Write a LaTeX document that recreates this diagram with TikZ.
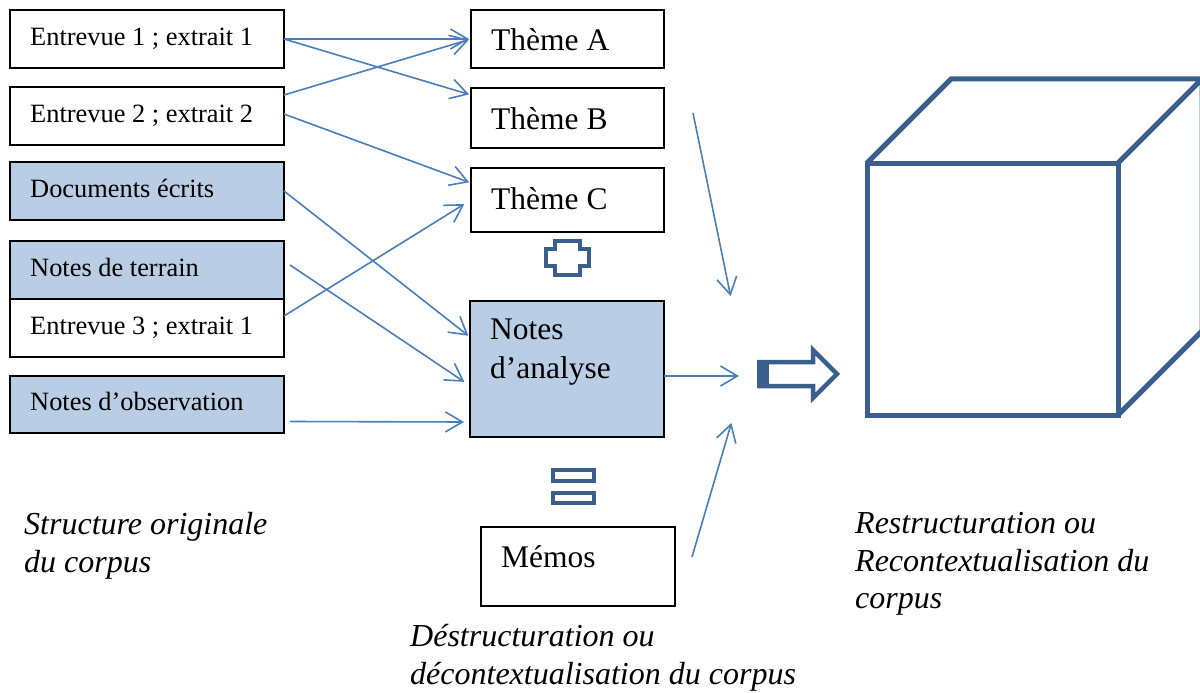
\documentclass[tikz,border=0pt]{standalone}
\usepackage{fontspec}
\setmainfont{Liberation Serif}
\usetikzlibrary{arrows.meta,calc}
\definecolor{fillblue}{HTML}{B9CDE5}
\definecolor{arrblue}{HTML}{4A7EBB}
\definecolor{darkblue}{HTML}{3A5F8C}
\newcommand\boxfont{\fontsize{26.4}{30}\selectfont}
\newcommand\themefont{\fontsize{31.5}{36}\selectfont}
\newcommand\capfont{\fontsize{32}{38}\selectfont\itshape}
\begin{document}
\begin{tikzpicture}[x=1pt,y=-1pt,
  boxw/.style={draw=black,line width=1.5pt,fill=white,anchor=north west,inner sep=0pt,outer sep=0pt},
  boxb/.style={boxw,fill=fillblue},
  lbl/.style={anchor=base west,inner sep=0pt},
  thin/.style={draw=arrblue,line width=1.6pt,-{Straight Barb[length=17pt,width=20pt,line width=1.6pt]},shorten >=2pt},
  sym/.style={draw=darkblue,line width=4.5pt,line join=miter},
]
\useasboundingbox (0,0) rectangle (1200,693);
\begin{scope}
\clip (0,0) rectangle (1200,693);
% left boxes
\node[boxw,minimum width=274pt,minimum height=58pt] (e1) at (10,10) {};
\node[boxw,minimum width=274pt,minimum height=58pt] (e2) at (10,87) {};
\node[boxb,minimum width=274pt,minimum height=58pt] (d) at (10,162) {};
\node[boxb,minimum width=274pt,minimum height=58pt] (nt) at (10,241) {};
\node[boxw,minimum width=274pt,minimum height=58pt] (e3) at (10,299) {};
\node[boxb,minimum width=274pt,minimum height=57pt] (no) at (10,376) {};
% middle boxes
\node[boxw,minimum width=193pt,minimum height=58pt] (tA) at (471,10) {};
\node[boxw,minimum width=193pt,minimum height=60pt] (tB) at (471,88) {};
\node[boxw,minimum width=193pt,minimum height=64pt] (tC) at (471,168) {};
\node[boxb,minimum width=194pt,minimum height=136pt] (na) at (470,301) {};
\node[boxw,minimum width=194pt,minimum height=79pt] (me) at (481,527) {};
% texts
\node[lbl] (te1) at (30,46) {\boxfont Entrevue 1 ; extrait 1};
\node[lbl] (te2) at (30,122) {\boxfont Entrevue 2 ; extrait 2};
\node[lbl] (td) at (30,197) {\boxfont Documents écrits};
\node[lbl] (tnt) at (30,276) {\boxfont Notes de terrain};
\node[lbl] (te3) at (30,334) {\boxfont Entrevue 3 ; extrait 1};
\node[lbl] (tno) at (30,410) {\boxfont Notes d’observation};
\node[lbl] (ttA) at (491,51) {\themefont Thème A};
\node[lbl] (ttB) at (491,129) {\themefont Thème B};
\node[lbl] (ttC) at (491,209) {\themefont Thème C};
\node[lbl] (tna1) at (490,339) {\themefont Notes};
\node[lbl] (tna2) at (490,378) {\themefont d’analyse};
\node[lbl] (tme) at (501,567) {\themefont Mémos};
% captions
\node[lbl] (c1a) at (24,534) {\capfont Structure originale};
\node[lbl] (c1b) at (24,572) {\capfont du corpus};
\node[lbl] (c2a) at (410,646) {\capfont Déstructuration ou};
\node[lbl] (c2b) at (410,684) {\capfont décontextualisation du corpus};
\node[lbl] (c3a) at (855,533) {\capfont Restructuration ou};
\node[lbl] (c3b) at (855,571) {\capfont Recontextualisation du};
\node[lbl] (c3c) at (855,608) {\capfont corpus};
% thin arrows
\draw[thin] (e1.east) -- (tA.west);
\draw[thin] (e1.east) -- ($(tB.north west)+(0,7)$);
\draw[thin] ($(e2.north east)+(0,8)$) -- (tA.west);
\draw[thin] ($(e2.east)+(0,-2)$) -- ($(tC.north west)+(0,15)$);
\draw[thin] (d.east) -- ($(na.north west)+(0,36)$);
\draw[thin] ($(nt.east)+(6,-5)$) -- ($(na.west)+(-4,14)$);
\draw[thin] ($(e3.north east)+(0,17)$) -- ($(tC.west)+(-5,3)$);
\draw[thin] ($(no.east)+(6,17)$) -- ($(na.south west)+(-4,-15)$);
\coordinate (r1s) at (693,113);
\coordinate (r1e) at (731,298);
\coordinate (r2e) at (741,376);
\coordinate (r3s) at (692,557);
\coordinate (r3e) at (732,421);
\draw[thin] (r1s) -- (r1e);
\draw[thin] ($(na.east)+(0,7)$) -- (r2e);
\draw[thin] (r3s) -- (r3e);
% plus symbol
\draw[sym] (555,241) -- (580,241) -- (580,249) -- (589,249) -- (589,266) -- (580,266) -- (580,275) -- (555,275) -- (555,266) -- (546,266) -- (546,249) -- (555,249) -- cycle;
% equals symbol
\draw[sym] (553,470) rectangle (594,481);
\draw[sym] (553,493) rectangle (594,503);
% block arrow
\fill[darkblue] (757,360) rectangle (769,388);
\draw[sym] (760,362) -- (813,362) -- (813,350) -- (837,374) -- (813,398) -- (813,386) -- (760,386) -- cycle;
% cube
\draw[sym,line width=5pt] (867,163) rectangle (1118,415);
\draw[sym,line width=5pt] (867,163) -- (951,79) -- (1202,79) -- (1118,163);
\draw[sym,line width=5pt] (1202,79) -- (1202,331) -- (1118,415);
\end{scope}
\end{tikzpicture}
\end{document}
